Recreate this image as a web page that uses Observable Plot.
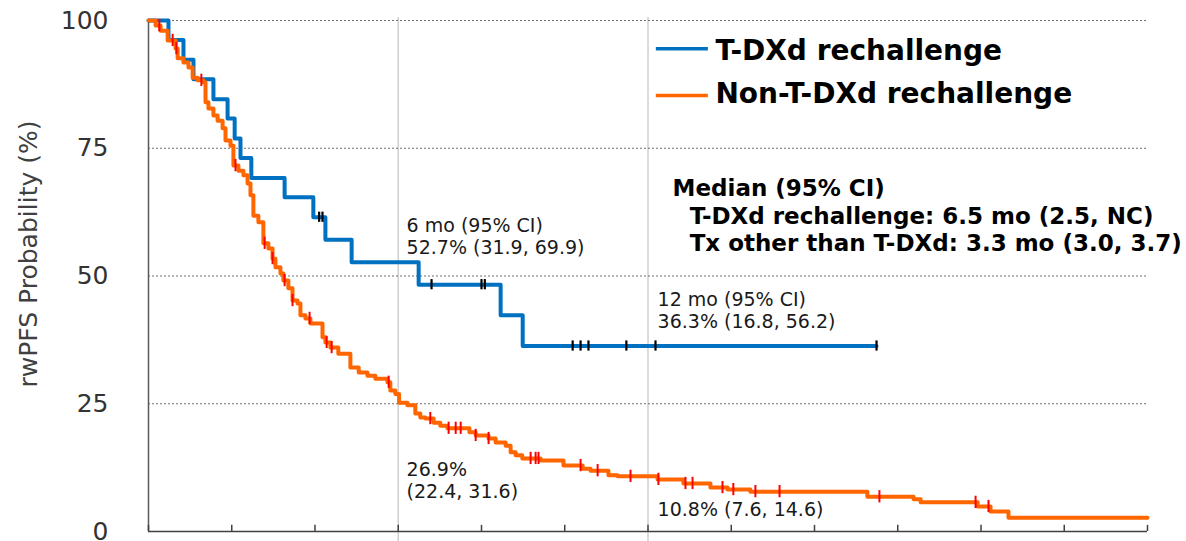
<!DOCTYPE html>
<html><head><meta charset="utf-8">
<script src="https://cdn.jsdelivr.net/npm/d3@7"></script>
<script src="https://cdn.jsdelivr.net/npm/@observablehq/plot@0.6"></script>
<style>body{margin:0;background:#fff;} #chart svg{display:block;}</style>
</head><body><div id="chart"></div>
<script>
// ---- data (months, % survival) ----
const seriesNames = ["T-DXd rechallenge", "Non-T-DXd rechallenge"];
const blueTimes = [0, 0.48, 0.84, 1.08, 1.56, 1.90, 2.07, 2.21, 2.47, 3.27, 3.96, 4.25, 4.88, 6.49, 8.46, 8.99, 17.49];
const blueSurv  = [100, 96.2, 92.3, 88.5, 84.6, 80.8, 76.9, 73.1, 69.2, 65.4, 61.5, 57.1, 52.7, 48.3, 42.3, 36.3, 36.3];
const blueCensored = [4.10, 4.18, 6.80, 8.00, 8.08, 10.19, 10.38, 10.57, 11.48, 12.18, 17.49];

const orangeTimes = [0, 0.17, 0.29, 0.46, 0.65, 0.70, 0.84, 0.96, 1.06, 1.18, 1.32, 1.37, 1.44, 1.56, 1.66, 1.78, 1.85, 1.97, 2.04, 2.16, 2.28, 2.38, 2.45, 2.52, 2.64, 2.76, 2.88, 2.98, 3.05, 3.17, 3.24, 3.36, 3.46, 3.58, 3.65, 3.77, 3.89, 4.18, 4.25, 4.37, 4.56, 4.85, 5.05, 5.26, 5.45, 5.74, 5.81, 5.93, 6.02, 6.22, 6.41, 6.53, 6.65, 6.85, 7.01, 7.18, 7.71, 7.86, 8.17, 8.34, 8.58, 8.70, 8.82, 8.98, 9.42, 9.97, 10.43, 10.62, 11.05, 11.27, 12.23, 12.85, 13.50, 13.91, 14.46, 17.27, 18.38, 18.55, 19.92, 20.23, 20.66, 24];
const orangeSurv  = [100, 99.0, 98.0, 96.1, 94.5, 92.6, 91.8, 90.8, 88.8, 88.3, 87.9, 84.0, 82.8, 81.4, 80.4, 78.9, 76.5, 75.5, 71.6, 70.6, 69.7, 68.1, 65.8, 61.8, 60.5, 56.4, 55.4, 53.4, 51.7, 50.5, 49.1, 47.6, 45.2, 44.6, 42.3, 41.7, 40.7, 38.0, 37.0, 36.0, 34.8, 32.1, 31.1, 30.5, 29.9, 29.2, 27.6, 26.9, 25.2, 24.7, 23.1, 22.3, 22.1, 21.3, 20.7, 20.2, 19.4, 18.8, 18.2, 17.4, 16.8, 15.5, 14.9, 14.3, 13.9, 12.9, 12.3, 11.9, 11.0, 10.8, 10.2, 9.4, 8.6, 8.2, 7.8, 6.8, 6.3, 5.7, 4.9, 3.9, 2.7, 2.7];
const orangeCensored = [0.26, 0.58, 0.67, 1.27, 2.09, 2.79, 2.98, 3.27, 3.46, 3.87, 4.28, 4.40, 5.77, 6.77, 7.21, 7.38, 7.50, 7.86, 8.17, 9.18, 9.30, 9.37, 10.38, 10.79, 11.58, 12.25, 12.90, 13.07, 13.79, 14.05, 14.58, 15.16, 17.56, 19.87, 20.18];

const yTicks = [0, 25, 50, 75, 100];
const xTicks = [0, 2, 4, 6, 8, 10, 12, 14, 16, 18, 20, 22, 24];
const landmarkMonths = [6, 12];
const yLabel = "rwPFS Probability (%)";
const annotationTexts = ["6 mo (95% CI)\n52.7% (31.9, 69.9)", "12 mo (95% CI)\n36.3% (16.8, 56.2)", "26.9%\n(22.4, 31.6)", "10.8% (7.6, 14.6)"];
const medianTitle = "Median (95% CI)";
const medianLines = ["T-DXd rechallenge: 6.5 mo (2.5, NC)", "Tx other than T-DXd: 3.3 mo (3.0, 3.7)"];

// ---- layout (placement in data units) ----
const yLabelPos = [-2.88, 54.3];
const annotationPos = [[6.2, 54.4], [12.23, 39.9], [6.2, 6.65], [12.23, 3.1]];
const legendLine = {x1: 12.2, x2: 13.45, y: [94.46, 85.3], textX: 13.62, textY: [92.3, 83.76]};
const medianPos = {titleX: 12.59, titleY: 65.75, lineX: 13.0, lineY: [60.27, 54.99]};

// ---- derived ----
const stepAt = (times, surv, t) => { let v = surv[0]; for (let i = 0; i < times.length; i++) { if (times[i] <= t) v = surv[i]; else break; } return v; };
const blueCurve = blueTimes.map((t, i) => ({t, s: blueSurv[i]}));
const orangeCurve = orangeTimes.map((t, i) => ({t, s: orangeSurv[i]}));
const blueCens = blueCensored.map(t => ({t, s: stepAt(blueTimes, blueSurv, t)}));
const orangeCens = orangeCensored.map(t => ({t, s: stepAt(orangeTimes, orangeSurv, t)}));
const annotations = annotationTexts.map((label, i) => ({label, x: annotationPos[i][0], y: annotationPos[i][1]}));
const legendItems = seriesNames.map((name, i) => ({name, y: legendLine.y[i], ty: legendLine.textY[i]}));
const medianItems = medianLines.map((label, i) => ({label, y: medianPos.lineY[i]}));

const BLUE = "#0070C0", ORANGE = "#FF6600";
const FONT = "'DejaVu Sans', Verdana, sans-serif";

const chart = Plot.plot({
  width: 1186, height: 541,
  marginLeft: 148, marginRight: 39, marginTop: 20, marginBottom: 10,
  style: {fontFamily: FONT, fontSize: "25px", color: "#333", background: "#fff"},
  x: {domain: [0, 24], axis: null},
  y: {domain: [0, 100], ticks: yTicks, tickSize: 0, tickPadding: 40, label: null},
  marks: [
    Plot.ruleX(landmarkMonths, {y1: -2.2, y2: 100.6, stroke: "#cfcfcf", strokeWidth: 1.5}),
    Plot.ruleY(yTicks.filter(d => d > 0), {x1: 0, x2: 24, stroke: "#6f6f6f", strokeDasharray: "2,2", strokeWidth: 1}),
    Plot.ruleX([0], {y1: 0, y2: 100, stroke: "#5a5a5a", strokeWidth: 1.5}),
    Plot.ruleY([0], {x1: 0, x2: 24, stroke: "#404040", strokeWidth: 1.5}),
    Plot.ruleX(xTicks, {y1: 0, y2: 1.2, stroke: "#404040", strokeWidth: 1.5}),
    Plot.line(blueCurve, {x: "t", y: "s", curve: "step-after", stroke: BLUE, strokeWidth: 4}),
    Plot.line(orangeCurve, {x: "t", y: "s", curve: "step-after", stroke: ORANGE, strokeWidth: 4}),
    Plot.ruleX(orangeCens, {x: "t", y1: d => d.s - 1.2, y2: d => d.s + 1.2, stroke: "#ff0000", strokeWidth: 2}),
    Plot.ruleX(blueCens, {x: "t", y1: d => d.s - 1.0, y2: d => d.s + 1.0, stroke: "#000", strokeWidth: 2.2}),
    Plot.text([yLabel], {x: yLabelPos[0], y: yLabelPos[1], rotate: -90, fontSize: 25, fill: "#404040"}),
    Plot.text(annotations, {x: "x", y: "y", text: "label", textAnchor: "start", lineAnchor: "bottom", lineHeight: 1.15, fontSize: 19, fill: "#1a1a1a"}),
    Plot.ruleY([legendItems[0]], {y: "y", x1: legendLine.x1, x2: legendLine.x2, stroke: BLUE, strokeWidth: 3.5}),
    Plot.ruleY([legendItems[1]], {y: "y", x1: legendLine.x1, x2: legendLine.x2, stroke: ORANGE, strokeWidth: 3.5}),
    Plot.text(legendItems, {x: legendLine.textX, y: "ty", text: "name", textAnchor: "start", lineAnchor: "bottom", fontSize: 28, fontWeight: "bold", fill: "#000"}),
    Plot.text([medianTitle], {x: medianPos.titleX, y: medianPos.titleY, textAnchor: "start", lineAnchor: "bottom", fontSize: 23, fontWeight: "bold", fill: "#000"}),
    Plot.text(medianItems, {x: medianPos.lineX, y: "y", text: "label", textAnchor: "start", lineAnchor: "bottom", fontSize: 23, fontWeight: "bold", fill: "#000"})
  ]
});
document.getElementById("chart").append(chart);
</script>
</body></html>
